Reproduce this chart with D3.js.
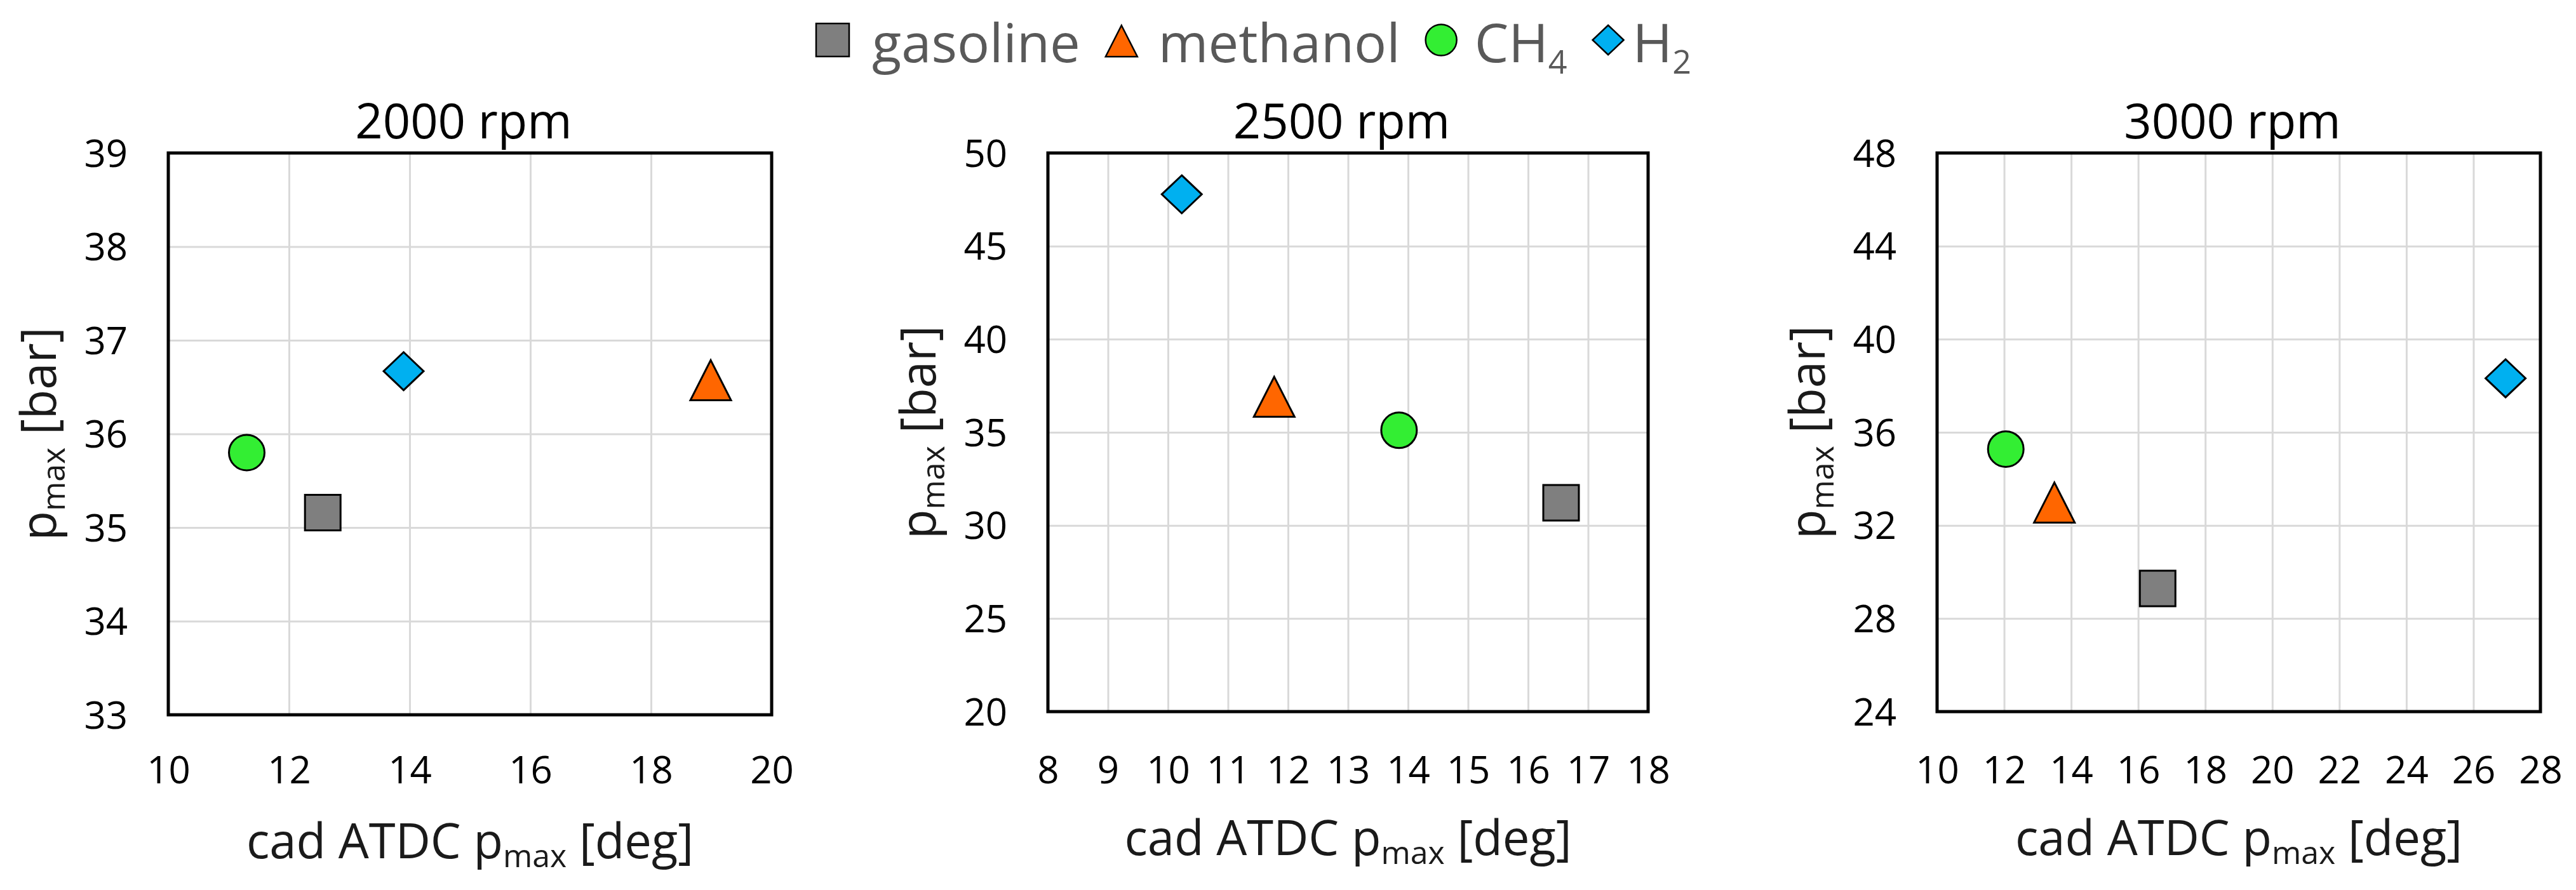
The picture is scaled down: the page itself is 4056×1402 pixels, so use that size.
<!DOCTYPE html>
<html>
<head>
<meta charset="utf-8">
<script src="https://cdn.jsdelivr.net/npm/d3@7"></script>
<style>
  html, body { margin: 0; padding: 0; background: #fff; }
  svg { display: block; }
  text { font-family: 'Open Sans', 'Noto Sans', sans-serif; }
</style>
</head>
<body>
<svg id="chart" width="4056" height="1402"></svg>
<script>
// ---------- DATA ----------
const panelTitles = ["2000 rpm", "2500 rpm", "3000 rpm"];
const fuels = ["gasoline", "methanol", "CH4", "H2"];

// cad ATDC of p_max [deg] per panel (2000, 2500, 3000 rpm)
const cadGasoline = [12.56, 16.55, 16.58];
const cadMethanol = [18.99, 11.77, 13.50];
const cadCH4      = [11.30, 13.85, 12.05];
const cadH2       = [13.90, 10.23, 26.96];

// p_max [bar] per panel
const pmaxGasoline = [35.16, 31.22, 29.29];
const pmaxMethanol = [36.57, 36.89, 32.97];
const pmaxCH4      = [35.80, 35.11, 35.28];
const pmaxH2       = [36.67, 47.78, 38.32];

// axis ticks per panel
const xTicks2000 = [10, 12, 14, 16, 18, 20];
const xTicks2500 = [8, 9, 10, 11, 12, 13, 14, 15, 16, 17, 18];
const xTicks3000 = [10, 12, 14, 16, 18, 20, 22, 24, 26, 28];
const yTicks2000 = [33, 34, 35, 36, 37, 38, 39];
const yTicks2500 = [20, 25, 30, 35, 40, 45, 50];
const yTicks3000 = [24, 28, 32, 36, 40, 44, 48];

// ---------- LAYOUT / STYLE ----------
const panels = [
  { left: 265,  right: 1215, top: 241, bottom: 1126, xTicks: xTicks2000, yTicks: yTicks2000 },
  { left: 1650, right: 2595, top: 241, bottom: 1121, xTicks: xTicks2500, yTicks: yTicks2500 },
  { left: 3050, right: 4000, top: 241, bottom: 1121, xTicks: xTicks3000, yTicks: yTicks3000 }
];
const fuelStyle = {
  gasoline: { fill: "#7f7f7f", shape: "square" },
  methanol: { fill: "#ff6600", shape: "triangle" },
  CH4:      { fill: "#33ee33", shape: "circle" },
  H2:       { fill: "#00b0f0", shape: "diamond" }
};
const fuelCad  = { gasoline: cadGasoline, methanol: cadMethanol, CH4: cadCH4, H2: cadH2 };
const fuelPmax = { gasoline: pmaxGasoline, methanol: pmaxMethanol, CH4: pmaxCH4, H2: pmaxH2 };

const svg = d3.select("#chart");

// marker path generator centered at 0,0; size s = approx width
function markerPath(shape, s) {
  const h = s / 2;
  if (shape === "square") return `M${-h},${-h}H${h}V${h}H${-h}Z`;
  if (shape === "triangle") return `M0,${-h}L${h},${h * 0.97}L${-h},${h * 0.97}Z`;
  if (shape === "diamond") return `M0,${-h * 0.95}L${h},0L0,${h * 0.95}L${-h},0Z`;
  return null;
}
function drawMarker(g, shape, fill, size, strokeW) {
  if (shape === "circle") {
    g.append("circle").attr("r", size / 2).attr("fill", fill)
      .attr("stroke", "#000").attr("stroke-width", strokeW);
  } else {
    g.append("path").attr("d", markerPath(shape, size)).attr("fill", fill)
      .attr("stroke", "#000").attr("stroke-width", strokeW).attr("stroke-linejoin", "miter");
  }
}
const plotMarkerSize = { square: 56, triangle: 64, circle: 56, diamond: 63 };

panels.forEach((p, i) => {
  const xs = d3.scaleLinear().domain(d3.extent(p.xTicks)).range([p.left, p.right]);
  const ys = d3.scaleLinear().domain(d3.extent(p.yTicks)).range([p.bottom, p.top]);
  const g = svg.append("g");

  // gridlines
  g.append("g").attr("transform", `translate(0,${p.bottom})`)
    .call(d3.axisBottom(xs).tickValues(p.xTicks).tickSize(-(p.bottom - p.top)).tickFormat(""))
    .call(a => a.select(".domain").remove())
    .call(a => a.selectAll("line").attr("stroke", "#d9d9d9").attr("stroke-width", 3));
  g.append("g").attr("transform", `translate(${p.left},0)`)
    .call(d3.axisLeft(ys).tickValues(p.yTicks).tickSize(-(p.right - p.left)).tickFormat(""))
    .call(a => a.select(".domain").remove())
    .call(a => a.selectAll("line").attr("stroke", "#d9d9d9").attr("stroke-width", 3));

  // tick labels
  const xLab = g.append("g").attr("transform", `translate(0,${p.bottom})`)
    .call(d3.axisBottom(xs).tickValues(p.xTicks).tickSize(0).tickFormat(d3.format("d")));
  xLab.select(".domain").remove();
  xLab.selectAll("text").attr("y", 1234 - p.bottom).attr("dy", null)
    .attr("font-size", 60).attr("fill", "#000").attr("font-family", "'Open Sans', sans-serif");

  const yLab = g.append("g").attr("transform", `translate(${p.left},0)`)
    .call(d3.axisLeft(ys).tickValues(p.yTicks).tickSize(0).tickPadding(64).tickFormat(d3.format("d")));
  yLab.select(".domain").remove();
  yLab.selectAll("text").attr("dy", "0.35em")
    .attr("font-size", 60).attr("fill", "#000").attr("font-family", "'Open Sans', sans-serif");

  // plot border
  g.append("rect").attr("x", p.left).attr("y", p.top)
    .attr("width", p.right - p.left).attr("height", p.bottom - p.top)
    .attr("fill", "none").attr("stroke", "#000").attr("stroke-width", 5);

  // title
  g.append("text").attr("x", (p.left + p.right) / 2 - 10).attr("y", 218)
    .attr("text-anchor", "middle").attr("font-size", 76).attr("fill", "#000")
    .text(panelTitles[i]);

  // x-axis title
  const xt = g.append("text").attr("x", (p.left + p.right) / 2).attr("y", p.bottom + 226)
    .attr("text-anchor", "middle").attr("font-size", 76).attr("fill", "#1a1a1a");
  xt.append("tspan").text("cad ATDC p");
  xt.append("tspan").attr("font-size", 50).attr("dy", 14).text("max");
  xt.append("tspan").attr("dy", -14).text(" [deg]");

  // y-axis title
  const cy = (p.top + p.bottom) / 2;
  const yt = g.append("text").attr("transform", `translate(${p.left - 177},${cy}) rotate(-90)`)
    .attr("text-anchor", "middle").attr("font-size", 76).attr("fill", "#1a1a1a");
  yt.append("tspan").text("p");
  yt.append("tspan").attr("font-size", 50).attr("dy", 14).text("max");
  yt.append("tspan").attr("dy", -14).text(" [bar]");

  // markers (order: gasoline, methanol, CH4, H2)
  fuels.forEach(f => {
    const st = fuelStyle[f];
    const mg = g.append("g")
      .attr("transform", `translate(${xs(fuelCad[f][i])},${ys(fuelPmax[f][i])})`);
    drawMarker(mg, st.shape, st.fill, plotMarkerSize[st.shape], 3);
  });
});

// ---------- LEGEND ----------
const legendLabels = { gasoline: "gasoline", methanol: "methanol", CH4: "CH", H2: "H" };
const legendSubs = { gasoline: null, methanol: null, CH4: "4", H2: "2" };
const legendMarkerSize = { square: 52, triangle: 50, circle: 49, diamond: 49 };
const lg = svg.append("g");
let lx = 1285;
const gapsAfterMarker = { gasoline: 36, methanol: 33, CH4: 28, H2: 14 };
fuels.forEach((f, k) => {
  const st = fuelStyle[f];
  const ms = legendMarkerSize[st.shape];
  const mg = lg.append("g").attr("transform", `translate(${lx + ms / 2},${st.shape === "triangle" ? 65 : 63})`);
  drawMarker(mg, st.shape, st.fill, ms, 2.5);
  lx += ms + gapsAfterMarker[f];
  const t = lg.append("text").attr("x", lx).attr("y", 98)
    .attr("font-size", 85).attr("fill", "#595959");
  t.append("tspan").text(legendLabels[f]);
  if (legendSubs[f]) t.append("tspan").attr("font-size", 52).attr("dy", 18).text(legendSubs[f]);
  lx += t.node().getComputedTextLength() + 40;
});
</script>
</body>
</html>
